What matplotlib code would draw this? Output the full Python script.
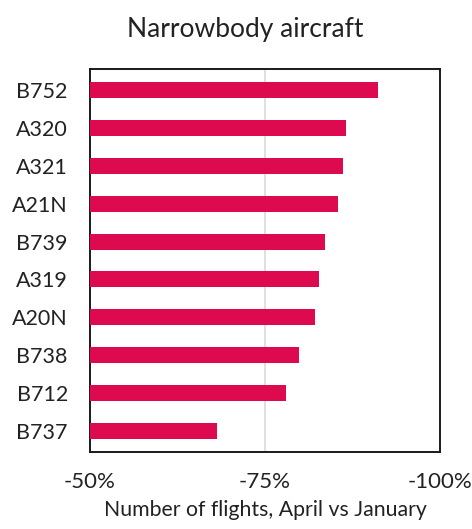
from matplotlib import pyplot as plt
from matplotlib.ticker import FuncFormatter

# aircraft types, top to bottom
aircraft = ['B752', 'A320', 'A321', 'A21N', 'B739',
            'A319', 'A20N', 'B738', 'B712', 'B737']
# change in number of flights, April vs January (%)
change = [-91.1, -86.5, -86.2, -85.4, -83.6,
          -82.7, -82.1, -79.8, -78.0, -68.1]
x_ticks = [-50, -75, -100]

plt.rcParams['font.family'] = ['Lato', 'DejaVu Sans']


def main():
    fig = plt.figure(figsize=(4.72, 5.29), dpi=100)
    ax = fig.add_axes([90 / 472, 1 - 452 / 529, 350 / 472, 383 / 529])

    pos = list(range(len(aircraft)))
    # bars start at -50% and go right (axis is inverted)
    widths = [v - (-50) for v in change]
    ax.barh(pos, widths, left=-50, height=0.42, color='#DE0A50', zorder=3)

    ax.set_xlim(-50, -100)
    ax.set_ylim(len(aircraft) - 0.45, -0.55)
    ax.set_yticks(pos)
    ax.set_yticklabels(aircraft, fontsize=15.5, color='#222222')
    ax.set_xticks(x_ticks)
    ax.xaxis.set_major_formatter(FuncFormatter(lambda v, p: f'{v:.0f}%'))
    ax.tick_params(axis='x', labelsize=16, length=0, pad=14.5, labelcolor='#222222')
    ax.tick_params(axis='y', length=0, pad=16)
    ax.axvline(-75, color='#d9d9d9', lw=1.2, zorder=1)

    for s in ax.spines.values():
        s.set_linewidth(1.4)
        s.set_color('#1a1a1a')

    ax.set_xlabel('Number of flights, April vs January', fontsize=15.3,
                  labelpad=5.5, color='#222222')
    fig.text(245 / 472, 1 - 37 / 529, 'Narrowbody aircraft', fontsize=19,
             ha='center', va='baseline', color='#222222')

    fig.savefig('out.png', dpi=100)


if __name__ == '__main__':
    main()
